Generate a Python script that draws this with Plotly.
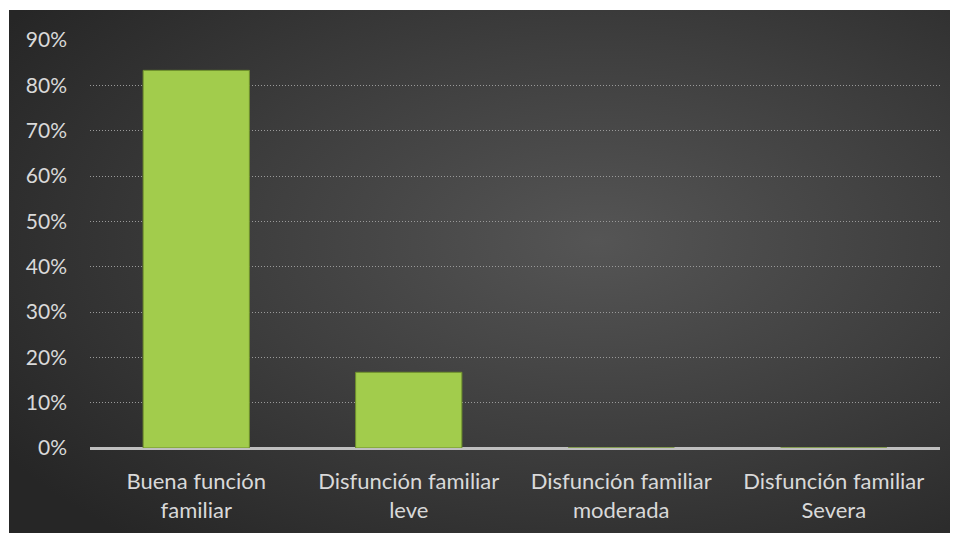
import base64
import plotly.graph_objects as go

categories = ["Buena función<br>familiar", "Disfunción familiar<br>leve",
              "Disfunción familiar<br>moderada", "Disfunción familiar<br>Severa"]
values = [0.833, 0.167, 0.0, 0.0]
tick_vals = [0, 0.1, 0.2, 0.3, 0.4, 0.5, 0.6, 0.7, 0.8, 0.9]
tick_text = ["0%", "10%", "20%", "30%", "40%", "50%", "60%", "70%", "80%", "90%"]

OFF = 8  # page body margin
W, H = 958, 533
L, T = 90 - OFF, 40 - OFF
R, B = W - (940 - OFF), H - (448 - OFF)
pw, ph = W - L - R, H - T - B

svg = """<svg xmlns='http://www.w3.org/2000/svg' width='949' height='522' viewBox='0 0 949 522' preserveAspectRatio='none'>
<defs><radialGradient id='g' cx='0.6' cy='0.42' r='0.72' fx='0.6' fy='0.42'>
<stop offset='0' stop-color='#555555'/><stop offset='0.5' stop-color='#3e3e3e'/><stop offset='1' stop-color='#262626'/>
</radialGradient></defs><rect width='949' height='522' fill='url(#g)'/></svg>"""
src = "data:image/svg+xml;base64," + base64.b64encode(svg.encode()).decode()

def px2x(p):
    return (p - OFF - L) / pw

def px2y(p):
    return (H - B - (p - OFF)) / ph

fig = go.Figure()
fig.add_trace(go.Bar(
    x=categories, y=values, width=0.5,
    marker=dict(color="#a2cc4c", line=dict(color="#6e8f2c", width=1)),
))

fig.add_layout_image(dict(
    source=src, xref="paper", yref="paper",
    x=px2x(9), y=px2y(10), sizex=px2x(990) - px2x(9), sizey=px2y(10) - px2y(560),
    xanchor="left", yanchor="top", sizing="stretch", layer="below",
))
fig.add_shape(type="rect", xref="paper", yref="paper", layer="below",
              x0=px2x(0), x1=px2x(9), y0=px2y(600), y1=px2y(0),
              fillcolor="white", line=dict(width=0))
fig.add_shape(type="rect", xref="paper", yref="paper", layer="below",
              x0=px2x(0), x1=px2x(1000), y0=px2y(10), y1=px2y(0),
              fillcolor="white", line=dict(width=0))

font_family = "Lato, 'Open Sans', sans-serif"
fig.update_layout(
    width=W, height=H,
    margin=dict(l=L, r=R, t=T, b=B),
    paper_bgcolor="#262626", plot_bgcolor="rgba(0,0,0,0)",
    showlegend=False,
    font=dict(family=font_family, size=21, color="#d9d9d9"),
    xaxis=dict(showgrid=False, showline=False, ticks="", ticklabelstandoff=18,
               tickfont=dict(size=22, color="#d9d9d9")),
    yaxis=dict(range=[0, 0.9], tickvals=tick_vals, ticktext=tick_text,
               showgrid=True, gridcolor="#9a9a9a", griddash="1px,2px", gridwidth=1,
               zeroline=True, zerolinecolor="#bfbfbf", zerolinewidth=3,
               ticks="", ticklabelstandoff=22, tickfont=dict(size=21, color="#d9d9d9")),
)

fig.write_html("out.html")
